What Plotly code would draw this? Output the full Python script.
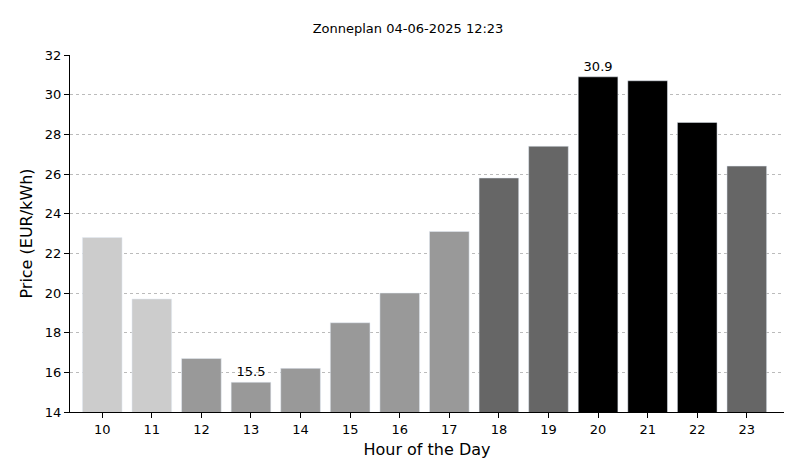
import plotly.graph_objects as go

hours = ["10","11","12","13","14","15","16","17","18","19","20","21","22","23"]
prices = [22.8,19.7,16.7,15.5,16.2,18.5,20.0,23.1,25.8,27.4,30.9,30.7,28.6,26.4]
colors = ["#cccccc","#cccccc","#999999","#999999","#999999","#999999","#999999","#999999",
          "#666666","#666666","#000000","#000000","#000000","#666666"]
labels = ["" for _ in hours]
labels[3] = "15.5"
labels[10] = "30.9"

fig = go.Figure(go.Bar(x=hours, y=prices, marker_color=colors, width=0.8,
                       text=labels, textposition="outside", cliponaxis=False,
                       textfont=dict(size=13, color="black")))
fig.update_layout(
    width=800, height=460, plot_bgcolor="white", paper_bgcolor="white",
    font=dict(family="DejaVu Sans", size=13, color="black"),
    title=dict(text="Zonneplan 04-06-2025 12:23", x=0.5, xanchor="center", y=0.965, font=dict(size=13)),
    margin=dict(l=62, r=24, t=47, b=51),
    showlegend=False,
    xaxis=dict(title=dict(text="Hour of the Day", standoff=8), showline=True, linecolor="black",
               ticks="outside", tickcolor="black", ticklen=5, showgrid=False, range=[-0.65, 13.75]),
    yaxis=dict(title=dict(text="Price (EUR/kWh)", standoff=8), range=[14, 32], dtick=2,
               showline=True, linecolor="black", ticks="outside", tickcolor="black", ticklen=5,
               showgrid=True, gridcolor="#bbbbbb", griddash="dot", gridwidth=1, zeroline=False),
)
fig.write_html("out.html")
